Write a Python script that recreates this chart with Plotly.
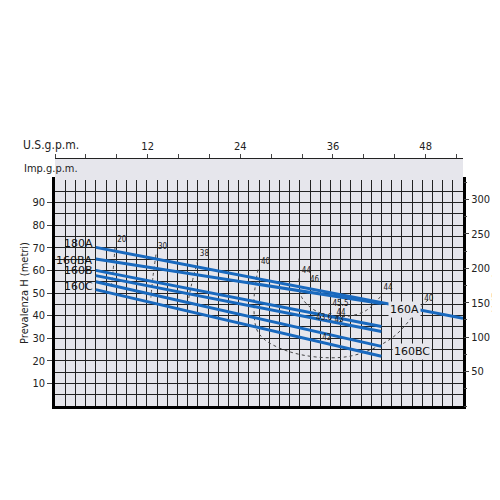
import plotly.graph_objects as go

# flow in l/min, head in m
curve_names = ["180A", "160A", "160B1", "160B2", "160C1", "160C2"]
curve_q = [[20, 200], [20, 160], [20, 160], [20, 160], [20, 160], [20, 160]]
curve_h = [[70.2, 38.8], [65.0, 45.4], [60.0, 35.2], [57.7, 33.0], [55.0, 26.4], [51.5, 22.0]]

# iso-efficiency curves (dotted)
eff_q = [
    [29.4, 28.5, 27.5],
    [49.5, 48.0, 47.0],
    [70.0, 67.0, 65.0],
    [99.5, 97.5, 100, 115, 143, 165, 179.4, 183],
    [119.6, 121, 128, 140, 152, 160],
]
eff_h = [
    [70.0, 60.0, 52.0],
    [67.0, 57.0, 48.0],
    [64.4, 54.0, 45.0],
    [60.4, 45.0, 32.0, 24.0, 21.8, 30.0, 44.0, 47.0],
    [56.4, 48.0, 42.0, 39.5, 42.0, 48.9],
]
eff_label = ["20", "30", "38", "40", "44", "46", "44", "40", "45.5", "44", "43.6", "43", "42"]
eff_label_q = [30.5, 50.5, 71, 101, 121, 125, 161, 181, 136, 138, 128, 137, 131]
eff_label_h = [71.5, 68.5, 65.5, 62, 58, 54, 50.5, 45.5, 43.5, 39.5, 37, 36.5, 28.5]

blue = "rgb(25,105,190)"
fig = go.Figure()

for q, h in zip(eff_q, eff_h):
    fig.add_trace(go.Scatter(x=q, y=h, mode="lines", line=dict(color="#444", width=1, dash="dot", shape="spline"),
                             hoverinfo="skip"))

for n, q, h in zip(curve_names, curve_q, curve_h):
    fig.add_trace(go.Scatter(x=q, y=h, mode="lines", name=n, line=dict(color=blue, width=3)))

fig.add_trace(go.Scatter(x=eff_label_q, y=eff_label_h, mode="text", text=eff_label,
                         textposition="top right", textfont=dict(size=8, color="#222", family="DejaVu Sans Condensed")))

# helper traces for secondary axes
fig.add_trace(go.Scatter(x=[0], y=[0], yaxis="y2", mode="markers", marker=dict(opacity=0), hoverinfo="skip"))
fig.add_trace(go.Scatter(x=[0], y=[0], xaxis="x2", yaxis="y3", mode="markers", marker=dict(opacity=0), hoverinfo="skip"))
fig.add_trace(go.Scatter(x=[0], y=[0], xaxis="x3", yaxis="y3", mode="markers", marker=dict(opacity=0), hoverinfo="skip"))

us_ticks = list(range(0, 53, 4))
imp_ticks = list(range(0, 44, 4))
dom_top = 226 / 248

grid = dict(showgrid=True, gridcolor="#222", gridwidth=1.1, automargin=False)
fig.update_layout(
    width=500, height=500, showlegend=False,
    paper_bgcolor="white", plot_bgcolor="#e6e6ec",
    margin=dict(l=47, r=45, t=150, b=102),
    font=dict(family="DejaVu Sans Condensed", size=11, color="#222"),
    xaxis=dict(range=[0, 200], dtick=5, showticklabels=False, ticks="", **grid,
               showline=True, linecolor="black", linewidth=2.5, mirror=True, zeroline=False),
    yaxis=dict(range=[0, 100], domain=[0, dom_top], tickvals=list(range(10, 100, 10)), ticks="outside",
               ticklen=5, **grid, showline=True, linecolor="black", linewidth=2.5, mirror=True,
               minor=dict(dtick=5, showgrid=True, gridcolor="#222", gridwidth=1.1),
               zeroline=False, title=dict(text="Prevalenza H (metri)", standoff=2, font=dict(size=11))),
    yaxis2=dict(range=[0, 100 * 3.2808], overlaying="y", side="right", tickvals=list(range(50, 301, 50)),
                ticks="outside", ticklen=5, showgrid=False, zeroline=False, automargin=False,
                minor=dict(dtick=25, ticks="outside", ticklen=3),
                title=dict(text="H (Feet)", standoff=2, font=dict(size=11))),
    yaxis3=dict(domain=[dom_top, 1], visible=False, range=[-1, -0.5], anchor="x2"),
    xaxis2=dict(range=[0, 200 / 4.546], anchor="free", position=dom_top, side="top", automargin=False,
                tickvals=imp_ticks, ticktext=[str(t) if t and t % 12 == 0 else "" for t in imp_ticks],
                ticks="outside", ticklen=4, showgrid=False, zeroline=False, showline=False),
    xaxis3=dict(range=[0, 200 / 3.785], anchor="free", position=1.0, side="top", automargin=False,
                tickvals=us_ticks, ticktext=[str(t) if t and t % 12 == 0 else "" for t in us_ticks],
                ticks="outside", ticklen=4, showgrid=False, zeroline=False, showline=True,
                linecolor="#222", linewidth=1),
)

ann = [
    ("U.S.g.p.m.", 0.0, 1.0, -34, 4, 12),
    ("Imp.g.p.m.", 0.0, dom_top, -33, 3, 11),
]
for t, x, y, dx, dy, s in ann:
    fig.add_annotation(text=t, xref="paper", yref="paper", x=x, y=y, xshift=dx, yshift=dy,
                       xanchor="left", yanchor="bottom", showarrow=False, font=dict(size=s))

labels = [("180A", 20, 72), ("160BA", 20, 64.5), ("160B", 20, 60), ("160C", 20, 53)]
for t, x, y in labels:
    fig.add_annotation(text=t, x=x, y=y, xanchor="right", showarrow=False, xshift=-1,
                       font=dict(size=11, color="#111", family="DejaVu Sans"))
for t, x, y in [("160A", 163, 42.5), ("160BC", 165, 24)]:
    fig.add_annotation(text=t, x=x, y=y, xanchor="left", showarrow=False, bgcolor="#e6e6ec",
                       font=dict(size=11, color="#111", family="DejaVu Sans"))

fig.write_html("out.html")
